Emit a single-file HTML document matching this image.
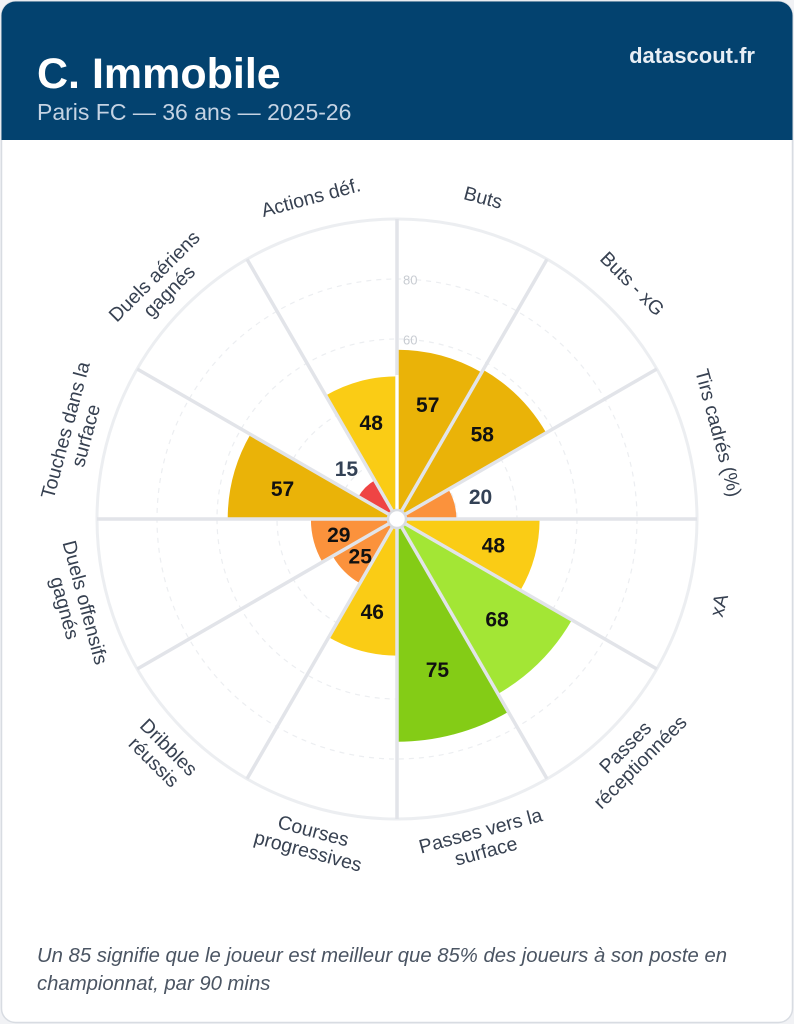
<!DOCTYPE html>
<html lang="fr">
<head>
<meta charset="utf-8">
<title>C. Immobile</title>
<style>
  html, body { margin: 0; padding: 0; background: #f1f2f5; }
  body { width: 794px; height: 1024px; overflow: hidden; }
  svg { display: block; }
  text { font-family: "Liberation Sans", Arial, sans-serif; }
</style>
</head>
<body>
<svg width="794" height="1024" viewBox="0 0 794 1024" xmlns="http://www.w3.org/2000/svg">
  <!-- card -->
  <rect x="1.5" y="1.5" width="791" height="1021" rx="14" ry="14" fill="#ffffff" stroke="#d8dce2" stroke-width="1.5"/>
  <!-- header -->
  <path d="M1.5,140 L1.5,15.5 A14,14 0 0 1 15.5,1.5 L778.5,1.5 A14,14 0 0 1 792.5,15.5 L792.5,140 Z" fill="#03426f"/>
  <text x="37" y="88" font-size="43" font-weight="bold" fill="#ffffff">C. Immobile</text>
  <text x="37" y="120" font-size="23" fill="#c5d3e3">Paris FC — 36 ans — 2025-26</text>
  <text x="755" y="63" font-size="22" font-weight="bold" fill="#e8eef5" text-anchor="end">datascout.fr</text>

  <!-- grid -->
  <g fill="none" stroke="#eceef1" stroke-width="1.2" stroke-dasharray="5 5">
    <circle cx="397" cy="519" r="60"/>
    <circle cx="397" cy="519" r="120"/>
    <circle cx="397" cy="519" r="180"/>
    <circle cx="397" cy="519" r="240"/>
  </g>
  <circle cx="397" cy="519" r="300" fill="none" stroke="#eceef1" stroke-width="3"/>

  <!-- tick labels -->
  <text x="403" y="284.5" font-size="13" fill="#c8ccd2">80</text>
  <text x="403" y="344.5" font-size="13" fill="#c8ccd2">60</text>

  <!-- bars -->
  <g stroke="none">
    <path d="M397,519 L397,349.7 A169.3,169.3 0 0 1 481.65,372.4 Z" fill="#eab308"/>
    <path d="M397,519 L483.15,369.8 A172.3,172.3 0 0 1 546.2,432.85 Z" fill="#eab308"/>
    <path d="M397,519 L448.4,489.3 A59.4,59.4 0 0 1 456.4,519 Z" fill="#fb923c"/>
    <path d="M397,519 L539.6,519 A142.6,142.6 0 0 1 520.5,590.3 Z" fill="#facc15"/>
    <path d="M397,519 L571.9,620 A202,202 0 0 1 498,693.9 Z" fill="#a3e635"/>
    <path d="M397,519 L508.4,711.9 A222.75,222.75 0 0 1 397,741.75 Z" fill="#84cc16"/>
    <path d="M397,519 L397,655.6 A136.6,136.6 0 0 1 328.7,637.3 Z" fill="#facc15"/>
    <path d="M397,519 L359.9,583.3 A74.25,74.25 0 0 1 332.7,556.1 Z" fill="#fb923c"/>
    <path d="M397,519 L322.4,562.05 A86.1,86.1 0 0 1 310.9,519 Z" fill="#fb923c"/>
    <path d="M397,519 L227.7,519 A169.3,169.3 0 0 1 250.4,434.35 Z" fill="#eab308"/>
    <path d="M397,519 L358.4,496.7 A44.55,44.55 0 0 1 374.7,480.4 Z" fill="#ef4444"/>
    <path d="M397,519 L325.7,395.5 A142.6,142.6 0 0 1 397,376.4 Z" fill="#facc15"/>
  </g>

  <!-- spokes -->
  <g stroke="#e2e4e9" stroke-width="3.5" stroke-linecap="butt">
    <line x1="397" y1="519" x2="397" y2="219"/>
    <line x1="397" y1="519" x2="547" y2="259.2"/>
    <line x1="397" y1="519" x2="656.8" y2="369"/>
    <line x1="397" y1="519" x2="697" y2="519"/>
    <line x1="397" y1="519" x2="656.8" y2="669"/>
    <line x1="397" y1="519" x2="547" y2="778.8"/>
    <line x1="397" y1="519" x2="397" y2="819"/>
    <line x1="397" y1="519" x2="247" y2="778.8"/>
    <line x1="397" y1="519" x2="137.2" y2="669"/>
    <line x1="397" y1="519" x2="97" y2="519"/>
    <line x1="397" y1="519" x2="137.2" y2="369"/>
    <line x1="397" y1="519" x2="247" y2="259.2"/>
  </g>
  <line x1="397" y1="519" x2="397" y2="375" stroke="#ffffff" stroke-width="3"/>

  <!-- center -->
  <circle cx="397" cy="519" r="9" fill="#ffffff" stroke="#d9dce1" stroke-width="2.5"/>

  <!-- value labels -->
  <g font-size="21" font-weight="bold" text-anchor="middle" fill="#111111">
    <text x="427.7" y="404.5" dy="0.36em">57</text>
    <text x="482.3" y="433.7" dy="0.36em">58</text>
    <text x="480.5" y="496.6" dy="0.36em" fill="#334155">20</text>
    <text x="493.4" y="544.8" dy="0.36em">48</text>
    <text x="497" y="619" dy="0.36em">68</text>
    <text x="437.4" y="669.6" dy="0.36em">75</text>
    <text x="372.3" y="611.3" dy="0.36em">46</text>
    <text x="360.2" y="555.8" dy="0.36em">25</text>
    <text x="338.8" y="534.6" dy="0.36em">29</text>
    <text x="282.5" y="488.3" dy="0.36em">57</text>
    <text x="346.4" y="468.4" dy="0.36em" fill="#334155">15</text>
    <text x="371.2" y="422.6" dy="0.36em">48</text>
  </g>

  <!-- axis labels -->
  <g font-size="19.5" fill="#374151" text-anchor="middle">
    <text transform="translate(483.2,197.3) rotate(15)"><tspan x="0" y="0" dy="0.35em">Buts</tspan></text>
    <text transform="translate(632.5,283.5) rotate(45)"><tspan x="0" y="0" dy="0.35em">Buts - xG</tspan></text>
    <text transform="translate(718.7,432.8) rotate(75)"><tspan x="0" y="0" dy="0.35em">Tirs cadrés (%)</tspan></text>
    <text transform="translate(718.7,605.2) rotate(-75)"><tspan x="0" y="0" dy="0.35em">xA</tspan></text>
    <text transform="translate(632.5,754.5) rotate(-45)"><tspan x="0" y="-10.5" dy="0.35em">Passes</tspan><tspan x="0" y="10.5" dy="0.35em">réceptionnées</tspan></text>
    <text transform="translate(483.2,840.7) rotate(-15)"><tspan x="0" y="-10.5" dy="0.35em">Passes vers la</tspan><tspan x="0" y="10.5" dy="0.35em">surface</tspan></text>
    <text transform="translate(310.8,840.7) rotate(15)"><tspan x="0" y="-10.5" dy="0.35em">Courses</tspan><tspan x="0" y="10.5" dy="0.35em">progressives</tspan></text>
    <text transform="translate(161.5,754.5) rotate(45)"><tspan x="0" y="-10.5" dy="0.35em">Dribbles</tspan><tspan x="0" y="10.5" dy="0.35em">réussis</tspan></text>
    <text transform="translate(75.3,605.2) rotate(75)"><tspan x="0" y="-10.5" dy="0.35em">Duels offensifs</tspan><tspan x="0" y="10.5" dy="0.35em">gagnés</tspan></text>
    <text transform="translate(75.3,432.8) rotate(-75)"><tspan x="0" y="-10.5" dy="0.35em">Touches dans la</tspan><tspan x="0" y="10.5" dy="0.35em">surface</tspan></text>
    <text transform="translate(161.5,283.5) rotate(-45)"><tspan x="0" y="-10.5" dy="0.35em">Duels aériens</tspan><tspan x="0" y="10.5" dy="0.35em">gagnés</tspan></text>
    <text transform="translate(310.8,197.3) rotate(-15)"><tspan x="0" y="0" dy="0.35em">Actions déf.</tspan></text>
  </g>

  <!-- footer -->
  <text x="37" y="962" font-size="20.3" font-style="italic" fill="#4b5563">Un 85 signifie que le joueur est meilleur que 85% des joueurs à son poste en</text>
  <text x="37" y="990" font-size="20.3" font-style="italic" fill="#4b5563">championnat, par 90 mins</text>
</svg>
</body>
</html>
